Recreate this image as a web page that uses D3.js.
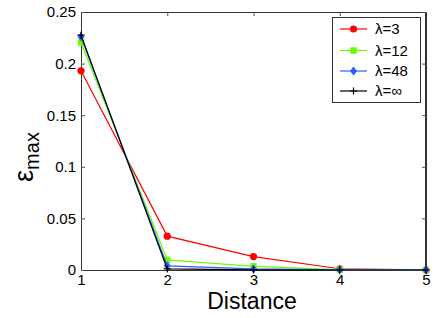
<!DOCTYPE html>
<html><head><meta charset="utf-8">
<script src="https://cdn.jsdelivr.net/npm/d3@7"></script>
<style>body{margin:0;background:#fff}svg{display:block;font-family:"Liberation Sans",Arial,sans-serif}</style>
</head><body><svg id="c" width="436" height="318"></svg>
<script>
const distances = [1, 2, 3, 4, 5];
const lambda3  = [0.193, 0.0328, 0.0130, 0.0012, 0.0001];
const lambda12 = [0.2205, 0.0098, 0.0036, 0.0004, 0.0];
const lambda48 = [0.226, 0.0040, 0.0010, 0.0001, 0.0];
const lambdaInf = [0.2275, 0.0010, 0.0002, 0.0, 0.0];
const seriesNames = ["λ=3", "λ=12", "λ=48", "λ=∞"];
const xTicks = [1, 2, 3, 4, 5];
const yTicks = [0, 0.05, 0.1, 0.15, 0.2, 0.25];
const yTickLabels = ["0", "0.05", "0.1", "0.15", "0.2", "0.25"];

const svg = d3.select("#c");
const L = 81, R = 426, T = 12, B = 270;
const x = d3.scaleLinear().domain([1, 5]).range([L, R]);
const y = d3.scaleLinear().domain([0, 0.25]).range([B, T]);

const series = [
  {name: seriesNames[0], vals: lambda3, color: "#ff0000", marker: "circle"},
  {name: seriesNames[1], vals: lambda12, color: "#66ff00", marker: "square"},
  {name: seriesNames[2], vals: lambda48, color: "#2f5bff", marker: "diamond"},
  {name: seriesNames[3], vals: lambdaInf, color: "#000000", marker: "plus"}
];

// axes box
svg.append("rect").attr("x", L + 0.5).attr("y", T + 0.5).attr("width", R - L - 1).attr("height", B - T)
  .attr("fill", "#fff").attr("stroke", "#333").attr("stroke-width", 1);

const fs = 15;
const axB = svg.append("g").attr("transform", `translate(0,${B})`)
  .call(d3.axisBottom(x).tickValues(xTicks).tickFormat(d3.format("d")).tickSizeInner(-4).tickSizeOuter(0).tickPadding(4));
const axT = svg.append("g").attr("transform", `translate(0,${T})`)
  .call(d3.axisTop(x).tickValues(xTicks).tickFormat("").tickSizeInner(-4).tickSizeOuter(0));
const axL = svg.append("g").attr("transform", `translate(${L},0)`)
  .call(d3.axisLeft(y).tickValues(yTicks).tickFormat((d, i) => yTickLabels[i]).tickSizeInner(-4).tickSizeOuter(0).tickPadding(5));
const axR = svg.append("g").attr("transform", `translate(${R},0)`)
  .call(d3.axisRight(y).tickValues(yTicks).tickFormat("").tickSizeInner(-4).tickSizeOuter(0));
[axB, axT, axL, axR].forEach(a => {
  a.select(".domain").attr("stroke", "#333");
  a.selectAll(".tick line").attr("stroke", "#555");
  a.selectAll("text").attr("font-size", fs).attr("fill", "#000").attr("font-family", "Liberation Sans, Arial, sans-serif");
});
axB.selectAll("text").attr("dy", "0.72em");

// lines
const line = d3.line().x((d, i) => x(distances[i])).y(d => y(d));
function drawMarker(g, type, cx, cy, color) {
  if (type === "circle") g.append("circle").attr("cx", cx).attr("cy", cy).attr("r", 3.6).attr("fill", color);
  else if (type === "square") g.append("rect").attr("x", cx - 3.2).attr("y", cy - 3.2).attr("width", 6.4).attr("height", 6.4).attr("fill", color);
  else if (type === "diamond") g.append("path").attr("d", `M${cx},${cy-4.5}L${cx+3.5},${cy}L${cx},${cy+4.5}L${cx-3.5},${cy}Z`).attr("fill", color);
  else if (type === "plus") g.append("path").attr("d", `M${cx-3.5},${cy}H${cx+3.5}M${cx},${cy-3.5}V${cy+3.5}`).attr("stroke", color).attr("stroke-width", 1.2);
}
const plot = svg.append("g");
series.forEach(s => {
  plot.append("path").datum(s.vals).attr("d", line).attr("fill", "none").attr("stroke", s.color).attr("stroke-width", 1.2);
  s.vals.forEach((v, i) => drawMarker(plot, s.marker, x(distances[i]), y(v), s.color));
});

// legend
const lg = svg.append("g");
lg.append("rect").attr("x", 332.5).attr("y", 17.5).attr("width", 88).attr("height", 85)
  .attr("fill", "#fff").attr("stroke", "#333").attr("stroke-width", 1);
const rowY = [29, 50.5, 71, 91];
series.forEach((s, i) => {
  lg.append("line").attr("x1", 340).attr("x2", 367).attr("y1", rowY[i]).attr("y2", rowY[i]).attr("stroke", s.color).attr("stroke-width", 1.2);
  drawMarker(lg, s.marker, 353.5, rowY[i], s.color);
  lg.append("text").attr("x", 375).attr("y", rowY[i]).attr("dy", "0.36em").attr("font-size", 15).text(s.name);
});

// axis labels
svg.append("text").attr("x", 252).attr("y", 309).attr("text-anchor", "middle").attr("font-size", 23).text("Distance");
const yl = svg.append("text").attr("transform", "translate(33,157) rotate(-90)").attr("text-anchor", "middle");
yl.append("tspan").attr("font-size", 27).text("ε");
yl.append("tspan").attr("font-size", 20).attr("dy", 6).text("max");
</script></body></html>
